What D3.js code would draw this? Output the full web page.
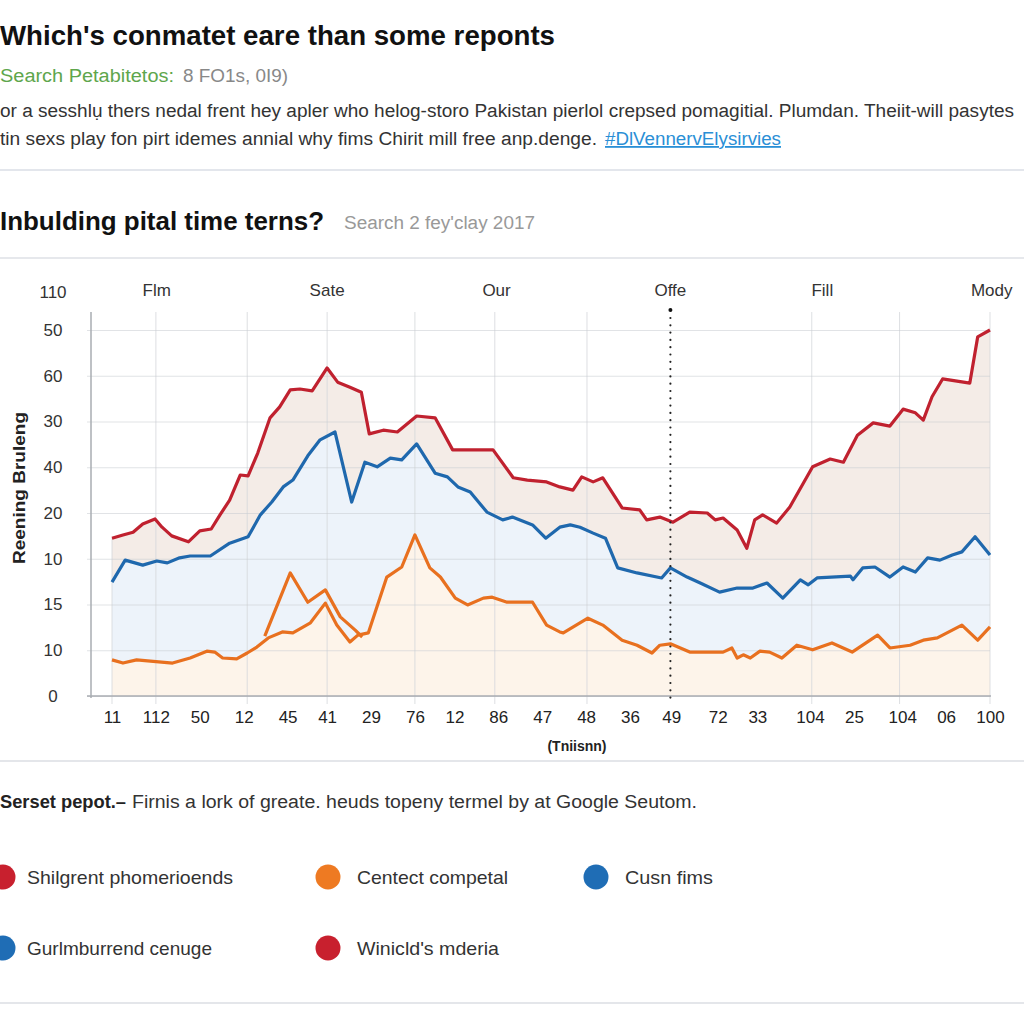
<!DOCTYPE html>
<html><head><meta charset="utf-8">
<script src="https://cdn.jsdelivr.net/npm/d3@7"></script>
<style>
html,body{margin:0;padding:0;background:#fff;overflow:hidden}
svg{display:block;font-family:"Liberation Sans",Arial,Helvetica,sans-serif}
</style></head>
<body>
<svg id="c" width="1024" height="1024"></svg>
<script>
// ---------- data ----------
const xTickLabels = ["11","112","50","12","45","41","29","76","12","86","47","48","36","49","72","33","104","25","104","06","100"];
const xTickPos = [0,5,10,15,20,24.5,29.5,34.5,39,44,49,54,59,63.7,69,73.5,79.5,84.5,90,95,100];
const yTickLabels = ["0","10","15","10","20","40","30","60","50"];
const yTickPos = [0,10,20,30,40,50,60,70,80];
const yTopLabel = "110";
const topLabels = ["Flm","Sate","Our","Offe","Fill","Mody"];
const topLabelPos = [5.1,24.5,43.8,63.6,80.9,100.2];
const xGridPos = [0,5,15.4,24.5,34.5,43.6,54.1,79.7,89.7,100];
const markerPos = 63.6;

const redSeries = [[0,34.5],[1.25,35.2],[2.4,35.8],[3.5,37.6],[4.9,38.7],[5.7,36.9],[6.8,35.0],[8.7,33.7],[10,36.1],[11.3,36.5],[12.3,39.6],[13.4,42.8],[14.6,48.3],[15.5,48.1],[16.6,53.1],[18,60.8],[19.1,63.2],[20.3,66.9],[21.4,67.1],[22.8,66.7],[24.5,71.7],[25.7,68.6],[27.1,67.5],[28.4,66.4],[29.3,57.3],[30.9,58.1],[32.5,57.7],[34.7,61.2],[36.8,60.8],[38.8,53.8],[41,53.8],[43.4,53.8],[45.7,47.7],[47.3,47.2],[49.5,46.8],[51,45.7],[52.5,45.0],[53.5,47.9],[54.8,46.8],[55.9,47.7],[58.1,41.1],[60.1,40.7],[60.9,38.5],[62.4,39.1],[63.9,38.0],[65.8,40.2],[67.8,40.0],[68.7,38.5],[69.6,38.9],[71.2,36.3],[72.3,32.3],[73.2,38.5],[74.1,39.6],[75.7,37.8],[77.2,41.3],[79.8,50.1],[81.8,51.8],[83.3,51.1],[84.9,57.0],[86.7,59.7],[88.6,59.0],[90.1,62.7],[91.5,61.9],[92.4,60.3],[93.4,65.4],[94.6,69.3],[97.7,68.4],[98.6,78.5],[100,80.0]];

const blueSeries = [[0,24.9],[1.5,29.7],[3.5,28.6],[5.1,29.5],[6.3,29.1],[7.7,30.2],[8.9,30.6],[11.2,30.6],[13.4,33.4],[15.5,34.8],[16.9,39.6],[18.2,42.4],[19.5,45.7],[20.6,47.2],[22.3,52.5],[23.7,56.0],[25.4,57.7],[27.3,42.4],[28.8,51.1],[30.2,50.1],[31.7,52.0],[33,51.6],[34.7,55.1],[36.8,48.7],[38.2,47.9],[39.4,45.7],[40.8,44.6],[42.7,40.2],[44.5,38.5],[45.6,39.1],[47.9,37.4],[49.4,34.5],[51,36.9],[52.2,37.4],[53.3,36.9],[54.8,35.6],[56.2,34.5],[57.6,28.0],[59.8,26.9],[62.6,25.8],[63.6,28.0],[65.5,26.0],[67,24.7],[69.2,22.7],[71.2,23.6],[73,23.6],[74.6,24.7],[76.4,21.4],[78.4,25.4],[79.3,24.3],[80.3,25.8],[84.1,26.2],[84.4,25.4],[85.5,28.0],[86.9,28.2],[88.6,26.0],[90.1,28.2],[91.5,27.1],[92.9,30.2],[94.3,29.7],[95.7,30.8],[96.8,31.5],[98.3,34.8],[100,30.8]];

const orangeSeries = [[0,7.9],[1.25,7.2],[2.8,7.9],[6.9,7.2],[8.9,8.3],[10.8,9.8],[11.7,9.6],[12.6,8.3],[14.2,8.1],[15.4,9.4],[16.5,10.7],[17.8,12.7],[19.4,14.0],[20.6,13.8],[22.6,16.0],[24.3,20.3],[25.6,15.5],[27.1,11.8],[28,13.3],[29.2,13.8],[31.3,26.0],[33,28.2],[34.5,35.2],[36.2,28.0],[37.4,26.0],[39.1,21.4],[40.5,19.9],[42.3,21.4],[43.3,21.6],[45,20.5],[47.9,20.5],[49.5,15.5],[51,14.0],[51.4,13.8],[54.2,17.0],[55.9,15.5],[58.1,12.2],[59.8,11.1],[61.5,9.4],[62.4,11.1],[63.6,11.4],[65.8,9.6],[69.6,9.6],[70.6,10.5],[71.2,8.3],[71.9,9.0],[72.7,8.3],[73.8,9.8],[74.9,9.6],[76.3,8.3],[78,11.1],[79.8,10.1],[82,11.6],[84.3,9.6],[87.2,13.3],[88.6,10.5],[90.9,11.1],[92.4,12.2],[94,12.7],[96.8,15.5],[98.6,12.2],[100,15.1]];

const orangeSpike = [[17.4,13.1],[20.3,26.9],[22.3,20.5],[24.3,23.2],[26,17.3],[27.7,14.4],[28.5,12.9]];

const legendLabels = ["Shilgrent phomerioends","Centect competal","Cusn fims","Gurlmburrend cenuge","Winicld's mderia"];
const legendColors = ["#c8202e","#ee7a22","#1f6db5","#1f6db5","#c8202e"];

// ---------- drawing ----------
const svg = d3.select("#c");
const RED="#c0212f", BLUE="#1f68ad", ORANGE="#e8701f";
const LA = "spacingAndGlyphs";

// header texts
svg.append("text").attr("x",0).attr("y",45).attr("font-size",28).attr("font-weight","bold").attr("fill","#111")
  .attr("textLength",555).attr("lengthAdjust",LA)
  .text("Which's conmatet eare than some reponts");
svg.append("text").attr("x",0).attr("y",82).attr("font-size",18).attr("fill","#5ea64c")
  .attr("textLength",174).attr("lengthAdjust",LA).text("Search Petabitetos:");
svg.append("text").attr("x",183).attr("y",82).attr("font-size",18).attr("fill","#888")
  .attr("textLength",105).attr("lengthAdjust",LA).text("8 FO1s, 0I9)");
svg.append("text").attr("x",0).attr("y",117).attr("font-size",18).attr("fill","#333")
  .attr("textLength",1014).attr("lengthAdjust",LA)
  .text("or a sesshlụ thers nedal frent hey apler who helog-storo Pakistan pierlol crepsed pomagitial. Plumdan. Theiit-will pasytes");
svg.append("text").attr("x",0).attr("y",145).attr("font-size",18).attr("fill","#333")
  .attr("textLength",597).attr("lengthAdjust",LA)
  .text("tin sexs play fon pirt idemes annial why fims Chirit mill free anp.denge.");
svg.append("text").attr("x",605).attr("y",145).attr("font-size",18).attr("fill","#2a8fd6").attr("text-decoration","underline")
  .attr("textLength",176).attr("lengthAdjust",LA).text("#DlVennervElysirvies");

svg.append("rect").attr("x",0).attr("y",169).attr("width",1024).attr("height",2).attr("fill","#e3e6ec");
svg.append("text").attr("x",0).attr("y",230).attr("font-size",25).attr("font-weight","bold").attr("fill","#111")
  .attr("textLength",324).attr("lengthAdjust",LA).text("Inbulding pital time terns?");
svg.append("text").attr("x",344).attr("y",229).attr("font-size",18).attr("fill","#999")
  .attr("textLength",191).attr("lengthAdjust",LA).text("Search 2 fey'clay 2017");
svg.append("rect").attr("x",0).attr("y",257).attr("width",1024).attr("height",2).attr("fill","#e6e8ec");

// scales
const x = d3.scaleLinear().domain([0,100]).range([112,990]);
const y = d3.scaleLinear().domain([0,80]).range([696,330]);
const plotLeft = 91, plotTop = 312;

const g = svg.append("g");
// areas
const area = d3.area().x(d=>x(d[0])).y0(y(0)).y1(d=>y(d[1]));
g.append("path").datum(redSeries).attr("d",area).attr("fill","#f4ece7");
g.append("path").datum(blueSeries).attr("d",area).attr("fill","#edf3fa");
g.append("path").datum(orangeSeries).attr("d",area).attr("fill","#fdf4ea");

// grid horizontal + y labels
const yAxis = d3.axisLeft(y).tickValues(yTickPos).tickSize(-(990-plotLeft)).tickPadding(27)
  .tickFormat((d,i)=>yTickLabels[i]);
const ya = svg.append("g").attr("transform",`translate(${plotLeft},0)`).call(yAxis);
ya.select(".domain").remove();
ya.selectAll(".tick line").attr("stroke","#c9ccd1").attr("stroke-opacity",0.55).attr("x1",-4);
ya.selectAll(".tick text").attr("font-size",17).attr("fill","#333").attr("text-anchor","middle").attr("dx",-11)
  .attr("font-family","Liberation Sans, Arial, sans-serif");
svg.append("text").attr("x",53).attr("y",298).attr("font-size",17).attr("fill","#333").attr("text-anchor","middle").text(yTopLabel);

// vertical gridlines
g.selectAll("line.vg").data(xGridPos).join("line").attr("class","vg")
  .attr("x1",d=>x(d)).attr("x2",d=>x(d)).attr("y1",d=>d===0?y(redSeries[0][1]):plotTop).attr("y2",704)
  .attr("stroke","#d4d7db").attr("stroke-width",1).attr("stroke-opacity",0.8);

// axis lines
svg.append("line").attr("x1",plotLeft).attr("x2",plotLeft).attr("y1",plotTop).attr("y2",698).attr("stroke","#a9adb2").attr("stroke-width",1.5);
svg.append("line").attr("x1",plotLeft-4).attr("x2",991).attr("y1",y(0)).attr("y2",y(0)).attr("stroke","#a9adb2").attr("stroke-width",1.5);

// lines
const line = d3.line().x(d=>x(d[0])).y(d=>y(d[1]));
const lw = 3.2;
svg.append("path").datum(orangeSpike).attr("d",line).attr("fill","none").attr("stroke",ORANGE).attr("stroke-width",lw).attr("stroke-linejoin","round");
svg.append("path").datum(orangeSeries).attr("d",line).attr("fill","none").attr("stroke",ORANGE).attr("stroke-width",lw).attr("stroke-linejoin","round");
svg.append("path").datum(blueSeries).attr("d",line).attr("fill","none").attr("stroke",BLUE).attr("stroke-width",lw).attr("stroke-linejoin","round");
svg.append("path").datum(redSeries).attr("d",line).attr("fill","none").attr("stroke",RED).attr("stroke-width",lw).attr("stroke-linejoin","round");

// dotted marker
svg.append("line").attr("x1",x(markerPos)).attr("x2",x(markerPos)).attr("y1",318).attr("y2",702)
  .attr("stroke","#222").attr("stroke-width",2.2).attr("stroke-dasharray","0,7.3").attr("stroke-linecap","round");
svg.append("circle").attr("cx",x(markerPos)).attr("cy",310).attr("r",2).attr("fill","#111");

// x axis labels
const xa = svg.append("g").attr("transform",`translate(0,${y(0)})`)
  .call(d3.axisBottom(x).tickValues(xTickPos).tickSize(0).tickPadding(15).tickFormat((d,i)=>xTickLabels[i]));
xa.select(".domain").remove();
xa.selectAll(".tick text").attr("font-size",17).attr("fill","#222").attr("font-family","Liberation Sans, Arial, sans-serif");

// top labels
svg.selectAll("text.top").data(topLabels).join("text").attr("class","top")
  .attr("x",(d,i)=>x(topLabelPos[i])).attr("y",296).attr("text-anchor","middle").attr("font-size",17).attr("fill","#333").text(d=>d);

// axis titles
svg.append("text").attr("transform","translate(25,488) rotate(-90)").attr("text-anchor","middle")
  .attr("font-size",17).attr("font-weight","bold").attr("fill","#222")
  .attr("textLength",152).attr("lengthAdjust",LA).text("Reening Bruleng");
svg.append("text").attr("x",577).attr("y",751).attr("text-anchor","middle").attr("font-size",14).attr("font-weight","bold").attr("fill","#222").text("(Tniisnn)");

svg.append("rect").attr("x",0).attr("y",760).attr("width",1024).attr("height",2).attr("fill","#e4e6ea");

// footer
svg.append("text").attr("x",0).attr("y",808).attr("font-size",18).attr("font-weight","bold").attr("fill","#222")
  .attr("textLength",126).attr("lengthAdjust",LA).text("Serset pepot.–");
svg.append("text").attr("x",132).attr("y",808).attr("font-size",18).attr("fill","#333")
  .attr("textLength",565).attr("lengthAdjust",LA).text("Firnis a lork of greate. heuds topeny termel by at Google Seutom.");

// legend
const legPos = [[3,877],[328,877],[596,877],[3,948],[328,948]];
const legW = [206,151,88,185,142];
const lg = svg.selectAll("g.leg").data(legendLabels).join("g").attr("class","leg")
  .attr("transform",(d,i)=>`translate(${legPos[i][0]},${legPos[i][1]})`);
lg.append("circle").attr("r",12.5).attr("fill",(d,i)=>legendColors[i]);
lg.append("text").attr("x",(d,i)=>i===1||i===2||i===4?29:24).attr("y",7).attr("font-size",19).attr("fill","#333")
  .attr("textLength",(d,i)=>legW[i]).attr("lengthAdjust",LA).text(d=>d);

svg.append("rect").attr("x",0).attr("y",1002).attr("width",1024).attr("height",2).attr("fill","#e4e6ea");
</script>
</body></html>
